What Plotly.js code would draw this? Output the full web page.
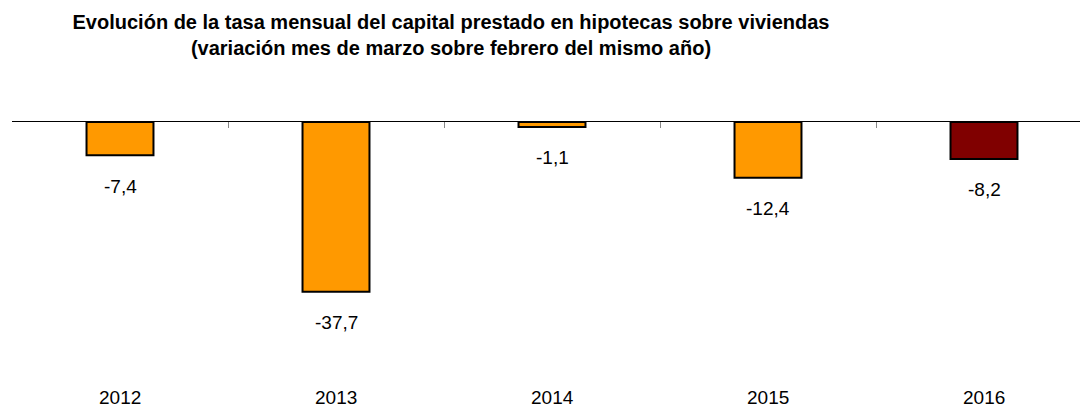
<!DOCTYPE html>
<html>
<head>
<meta charset="utf-8">
<script src="https://cdn.plot.ly/plotly-3.0.1.min.js"></script>
<style>html,body{margin:0;padding:0;background:#fff;}#chart{width:1080px;height:407px;}</style>
</head>
<body>
<div id="chart"></div>
<script>
const years = ['2012', '2013', '2014', '2015', '2016'];
const values = [-7.4, -37.7, -1.1, -12.4, -8.2];
const barColors = ['#FF9900', '#FF9900', '#FF9900', '#FF9900', '#800000'];
const titleLines = [
  'Evolución de la tasa mensual del capital prestado en hipotecas sobre viviendas',
  '(variación mes de marzo sobre febrero del mismo año)'
];

const fmt = v => v.toFixed(1).replace('.', ',');
const FONT = 'Arial, "Liberation Sans", sans-serif';

const trace = {
  type: 'bar',
  x: years,
  y: values,
  width: 0.31,
  marker: { color: barColors, line: { color: '#000000', width: 2 } },
  hoverinfo: 'none'
};

const valueAnnotations = years.map((yr, i) => ({
  x: i, y: values[i], xref: 'x', yref: 'y',
  text: fmt(values[i]), showarrow: false,
  xanchor: 'center', yanchor: 'middle', yshift: -31,
  font: { family: FONT, size: 19, color: '#000' }
}));

const yearAnnotations = years.map((yr, i) => ({
  x: i, y: 0, xref: 'x', yref: 'paper',
  text: yr, showarrow: false, xanchor: 'center', yanchor: 'middle', yshift: 0,
  font: { family: FONT, size: 19, color: '#000' }
}));

const layout = {
  width: 1080, height: 407,
  margin: { l: 12, r: 0, t: 122, b: 10, pad: 0 },
  paper_bgcolor: '#ffffff', plot_bgcolor: '#ffffff',
  showlegend: false,
  title: {
    text: titleLines.join('<br>'),
    font: { family: FONT, size: 20, color: '#000', weight: 'bold' },
    xref: 'container', x: 451 / 1080, xanchor: 'center',
    yref: 'container', y: 1 - 29 / 407, yanchor: 'top'
  },
  xaxis: {
    type: 'category', side: 'top',
    range: [-0.5, -0.5 + 1068 / 216],
    showline: true, linecolor: '#000', linewidth: 1,
    ticks: 'inside', tickson: 'boundaries', ticklen: 6, tickcolor: '#888', tickwidth: 1,
    showticklabels: false, showgrid: false, zeroline: false, fixedrange: true
  },
  yaxis: {
    range: [-275 / 4.5, 0],
    showticklabels: false, showline: false, ticks: '',
    showgrid: false, zeroline: false, fixedrange: true
  },
  annotations: valueAnnotations.concat(yearAnnotations)
};

Plotly.newPlot('chart', [trace], layout, { displayModeBar: false });
</script>
</body>
</html>
